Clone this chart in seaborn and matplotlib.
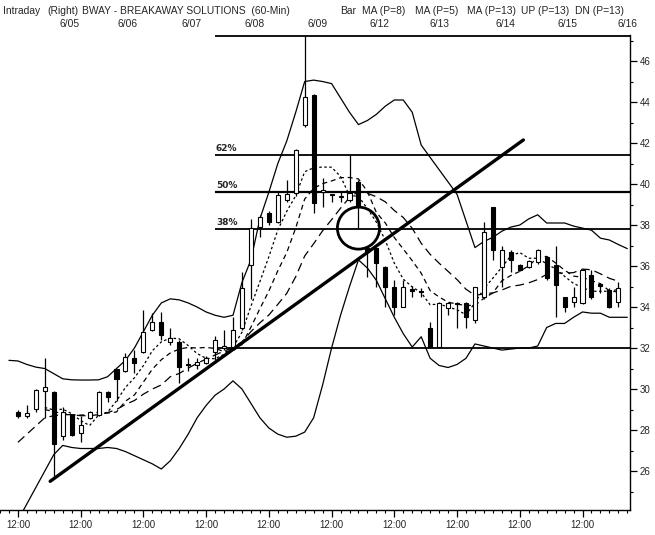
"""
BWAY 60분봉 차트 재현 — 캔들, 볼린저 밴드, 이동평균, 피보나치 되돌림
"""
import numpy as np
import pandas as pd
import matplotlib
matplotlib.use("Agg")
import matplotlib.pyplot as plt
import seaborn as sns
from matplotlib.patches import Ellipse

# ---- data (bar index: 7 hourly bars per day) ----
bars = list(range(2, 70))
opens = [28.9, 28.7, 29.05, 29.9, 29.85, 27.7, 28.75, 27.85, 28.6, 28.75, 29.85, 31.0, 30.9, 31.5,
         31.8, 32.9, 33.27, 32.3, 32.3, 31.2, 31.15, 31.27, 31.8, 32.0, 32.07, 33.0, 36.05, 37.9,
         38.6, 38.15, 39.2, 39.56, 42.88, 44.34, 39.6, 39.5, 39.35, 39.2, 40.1, 36.9, 36.88, 35.95,
         34.98, 34.0, 34.85, 34.78, 33.0, 32.05, 33.95, 34.2, 34.2, 33.36, 34.49, 38.9, 35.95, 36.7,
         36.05, 35.95, 36.2, 36.44, 36.05, 34.5, 34.25, 34.2, 35.56, 35.1, 34.83, 34.25]
highs = [29.0, 29.2, 30.0, 31.5, 29.9, 29.1, 28.8, 28.7, 28.95, 29.9, 29.9, 31.0, 31.75, 31.9,
         33.85, 33.7, 33.75, 33.0, 32.4, 31.5, 31.5, 31.6, 32.6, 32.9, 33.5, 35.7, 38.3, 38.5,
         38.7, 39.6, 40.2, 41.7, 47.2, 44.4, 40.3, 39.5, 39.6, 41.4, 40.2, 37.0, 36.9, 36.0,
         35.3, 35.3, 35.05, 34.95, 33.27, 34.25, 34.25, 34.25, 34.25, 35.0, 38.15, 38.9, 37.0, 36.8,
         36.1, 36.3, 36.85, 36.5, 37.0, 34.5, 35.0, 35.85, 35.8, 35.1, 34.95, 35.2]
lows = [28.6, 28.6, 28.9, 28.6, 25.7, 27.5, 27.7, 27.4, 28.55, 28.7, 29.35, 29.4, 30.85, 30.8,
        31.75, 32.85, 32.4, 32.15, 30.3, 30.9, 31.0, 31.2, 31.4, 31.9, 31.9, 32.9, 34.4, 37.4,
        38.0, 38.1, 39.1, 39.4, 42.8, 38.6, 38.9, 39.1, 39.1, 39.1, 37.85, 35.46, 34.98, 34.0,
        33.6, 34.0, 34.5, 34.5, 32.0, 32.0, 33.6, 33.0, 33.0, 33.2, 34.4, 36.3, 35.0, 35.7,
        35.75, 35.9, 36.1, 35.3, 33.5, 33.75, 34.0, 34.15, 34.4, 34.7, 33.95, 34.0]
closes = [28.7, 28.85, 29.95, 30.1, 27.3, 28.9, 27.75, 28.25, 28.9, 29.85, 29.6, 30.5, 31.55, 31.27,
          32.78, 33.27, 32.63, 32.5, 31.07, 31.15, 31.3, 31.5, 32.4, 32.1, 32.9, 34.93, 37.85, 38.4,
          38.15, 39.46, 39.5, 41.66, 44.24, 39.07, 39.7, 39.45, 39.4, 39.56, 38.88, 36.7, 36.15, 34.98,
          34.0, 34.98, 34.8, 34.73, 32.05, 34.2, 34.2, 34.15, 33.5, 34.98, 37.66, 36.78, 36.78, 36.3,
          35.8, 36.25, 36.78, 35.4, 35.07, 34.0, 34.5, 35.8, 34.5, 35.05, 34.0, 34.93]

nan = np.nan
ma5 = [nan, nan, nan, 29.1, 28.98, 29.02, 28.80, 28.46, 28.22, 28.73, 28.87, 29.42, 30.08, 30.55,
       31.14, 31.87, 32.30, 32.49, 32.45, 32.12, 31.73, 31.50, 31.48, 31.69, 32.04, 32.77, 34.04,
       35.24, 36.45, 37.76, 38.67, 39.43, 40.60, 40.79, 40.83, 40.82, 40.37, 39.44, 39.40, 38.80,
       38.14, 37.25, 36.14, 35.36, 34.98, 34.70, 34.11, 34.15, 34.00, 33.87, 33.62, 34.21, 34.90,
       35.41, 35.94, 36.50, 36.66, 36.38, 36.38, 36.11, 35.86, 35.50, 35.15, 34.95, 34.77, 34.77,
       34.77, 34.86]
ma8 = [nan, nan, nan, 29.0, 28.9, 28.8, 28.75, 28.73, 28.75, 28.88, 28.83, 28.88, 29.41, 29.71,
       30.34, 30.97, 31.43, 31.76, 31.95, 32.03, 32.00, 32.03, 31.98, 31.83, 31.87, 32.17, 33.02,
       33.92, 34.78, 35.77, 36.66, 37.86, 39.27, 39.79, 40.02, 40.15, 40.31, 40.32, 40.25, 39.63,
       38.61, 38.10, 37.39, 36.83, 36.26, 35.65, 34.80, 34.49, 34.24, 34.14, 34.08, 34.08, 34.43,
       34.69, 35.28, 35.54, 35.74, 36.01, 36.42, 36.47, 36.15, 35.80, 35.51, 35.45, 35.29, 35.14,
       34.79, 34.73]
ma13 = [27.4, 27.8, 28.2, 28.6, 28.7, 28.75, 28.75, 28.7, 28.7, 28.75, 28.85, 29.0, 29.25, 29.44,
        29.75, 30.00, 30.20, 30.60, 30.76, 31.02, 31.26, 31.46, 31.66, 31.85, 32.03, 32.29, 32.80,
        33.23, 33.61, 34.13, 34.67, 35.48, 36.49, 37.09, 37.72, 38.26, 38.82, 39.34, 39.64, 39.55,
        39.38, 39.13, 38.71, 38.37, 37.84, 37.11, 36.57, 36.14, 35.74, 35.34, 34.87, 34.57, 34.64,
        34.69, 34.83, 35.01, 35.07, 35.18, 35.34, 35.60, 35.67, 35.65, 35.68, 35.85, 35.82, 35.62,
        35.40, 35.26]

band_bars = list(range(1, 71))
upper = [31.4, 31.37, 31.2, 31.07, 31.0, 30.75, 30.5, 30.45, 30.44, 30.44, 30.45, 30.6, 31.0, 31.4,
         32.0, 32.8, 33.6, 34.2, 34.4, 34.35, 34.2, 34.0, 33.76, 33.6, 33.5, 33.6, 35.2, 36.3,
         38.3, 39.6, 41.0, 42.1, 43.5, 45.0, 45.07, 45.0, 44.9, 44.2, 43.5, 42.9, 43.1, 43.4,
         43.8, 44.1, 44.1, 43.5, 41.9, 41.3, 40.7, 40.1, 39.5, 38.2, 36.9, 37.2, 37.4, 37.7,
         37.9, 38.0, 38.3, 38.5, 38.1, 38.1, 38.1, 37.95, 37.85, 37.75, 37.36, 37.27, 37.05, 36.85]
lower = [22.8, 23.6, 24.4, 25.2, 26.0, 26.8, 27.25, 27.15, 27.1, 27.1, 27.1, 27.15, 27.1, 26.95,
         26.75, 26.55, 26.35, 26.1, 26.5, 27.1, 27.8, 28.6, 29.2, 29.7, 30.0, 30.4, 30.0, 29.3,
         28.6, 28.1, 27.8, 27.65, 27.7, 27.9, 28.6, 30.2, 32.0, 33.6, 35.0, 36.3, 35.9, 35.3,
         34.4, 33.5, 32.7, 32.05, 32.55, 31.5, 31.15, 31.05, 31.2, 31.5, 32.2, 32.1, 32.0, 31.9,
         31.95, 32.0, 32.0, 32.1, 33.0, 33.2, 33.2, 33.5, 33.76, 33.7, 33.7, 33.5, 33.5, 33.5]

fib_labels = ["", "62%", "50%", "38%", ""]
fib_levels = [47.2, 41.4, 39.6, 37.8, 32.0]
fib_start = 24
trend_x = [5.6, 58.4]
trend_y = [25.5, 42.15]
circle_xy = (40, 37.85)

dates = ["6/05", "6/06", "6/07", "6/08", "6/09", "6/12", "6/13", "6/14", "6/15", "6/16"]
date_px = [70, 128, 192, 255, 318, 380, 440, 505, 568, 627]
header = ["Intraday", "(Right)", "BWAY - BREAKAWAY SOLUTIONS  (60-Min)", "Bar",
          "MA (P=8)", "MA (P=5)", "MA (P=13)", "UP (P=13)", "DN (P=13)"]
header_px = [3, 47, 82, 340, 362, 415, 467, 521, 575]

df = pd.DataFrame({"bar": bars, "open": opens, "high": highs, "low": lows, "close": closes,
                   "ma5": ma5, "ma8": ma8, "ma13": ma13})
bands = pd.DataFrame({"bar": band_bars, "upper": upper, "lower": lower})

sns.set_theme(style="white")
plt.rcParams["font.family"] = ["Liberation Sans Narrow", "Liberation Sans", "DejaVu Sans"]

W, H = 655, 535
fig = plt.figure(figsize=(W / 100, H / 100), dpi=100)
ax = fig.add_axes([0.0, 1 - 510 / H, 630 / W, (510 - 35) / H])

# bands and averages
sns.lineplot(data=bands, x="bar", y="upper", ax=ax, color="black", lw=0.9)
sns.lineplot(data=bands, x="bar", y="lower", ax=ax, color="black", lw=0.9)
sns.lineplot(data=df, x="bar", y="ma5", ax=ax, color="black", lw=0.9, linestyle=(0, (2, 2)))
sns.lineplot(data=df, x="bar", y="ma8", ax=ax, color="black", lw=0.9, linestyle=(0, (4, 3)))
sns.lineplot(data=df, x="bar", y="ma13", ax=ax, color="black", lw=0.9, linestyle=(0, (7, 4)))

# candles
up = df["close"] >= df["open"]
ax.vlines(df["bar"], df["low"], df["high"], color="black", lw=0.9, zorder=3)
body_lo = np.minimum(df["open"], df["close"])
body_h = np.maximum((df["close"] - df["open"]).abs(), 0.06)
ax.bar(df["bar"], body_h, bottom=body_lo, width=0.45,
       color=np.where(up, "white", "black"), edgecolor="black", linewidth=0.8, zorder=4)

# fibonacci levels
xmax = 70.3
for lab, lv in zip(fib_labels, fib_levels):
    ax.hlines(lv, fib_start, xmax, color="black", lw=1.6 if lab == "50%" else 1.3, zorder=2)
    if lab:
        ax.text(fib_start + 0.1, lv + 0.12, lab, fontsize=6.5, fontweight="bold",
                family="DejaVu Sans", ha="left", va="bottom")

ax.plot(trend_x, trend_y, color="black", lw=2.4, solid_capstyle="round", zorder=5)
ax.add_patch(Ellipse(circle_xy, width=4.7, height=2.05, fill=False, lw=2.0,
                     edgecolor="black", zorder=6))

ax.set_xlim(0, xmax)
ax.set_ylim(24.1, 47.27)
ax.set_xlabel("")
ax.set_ylabel("")
for s in ["top", "left"]:
    ax.spines[s].set_visible(False)
for s in ["right", "bottom"]:
    ax.spines[s].set_color("black")
    ax.spines[s].set_linewidth(1.0)

ax.yaxis.tick_right()
ax.set_yticks(range(26, 47, 2))
ax.set_yticks(range(25, 48, 1), minor=True)
ax.set_xticks([2 + 7 * k for k in range(10)])
ax.set_xticklabels(["12:00"] * 10)
ax.set_xticks(range(0, 71), minor=True)
ax.tick_params(axis="both", which="major", direction="out", length=5, width=0.9,
               color="black", labelsize=7, pad=2)
ax.tick_params(axis="both", which="minor", direction="out", length=2.5, width=0.8,
               color="black")
ax.tick_params(axis="y", which="both", right=True, left=False)
ax.tick_params(axis="x", which="both", bottom=True, top=False)

# header rows
for txt, px in zip(header, header_px):
    fig.text(px / W, 1 - 14 / H, txt, fontsize=7.4, ha="left", va="baseline")
for txt, px in zip(dates, date_px):
    fig.text(px / W, 1 - 27 / H, txt, fontsize=7.4, ha="center", va="baseline")

fig.savefig("out.png", dpi=100, facecolor="white")
